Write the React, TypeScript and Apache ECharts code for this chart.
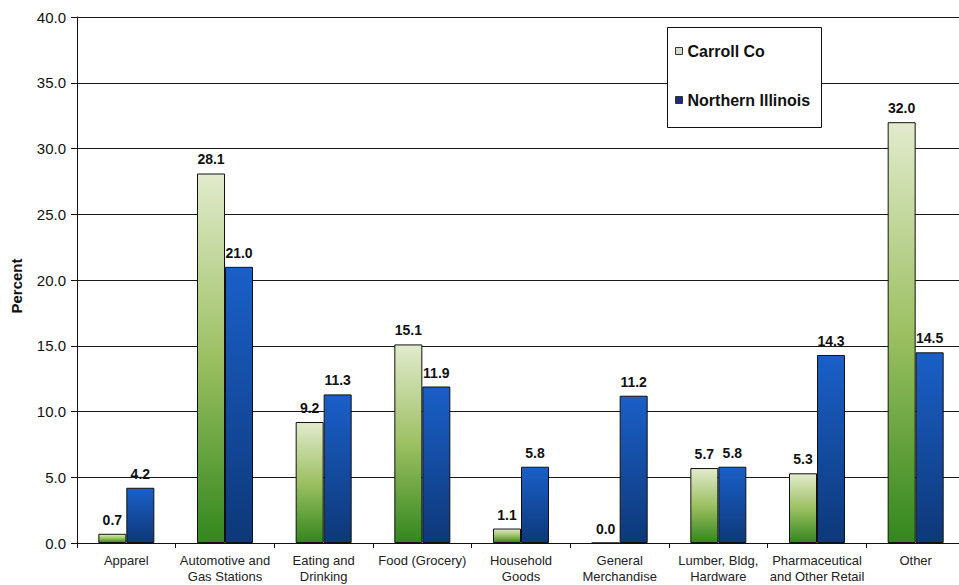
import React, { useEffect, useRef } from "react";
import * as echarts from "echarts";

const categories = [
  "Apparel",
  "Automotive and\nGas Stations",
  "Eating and\nDrinking",
  "Food (Grocery)",
  "Household\nGoods",
  "General\nMerchandise",
  "Lumber, Bldg,\nHardware",
  "Pharmaceutical\nand Other Retail",
  "Other",
];
const carrollCo = [0.7, 28.1, 9.2, 15.1, 1.1, 0.0, 5.7, 5.3, 32.0];
const northernIllinois = [4.2, 21.0, 11.3, 11.9, 5.8, 11.2, 5.8, 14.3, 14.5];
const yTicks = { min: 0, max: 40, interval: 5 };

const FONT = "'Liberation Sans', Arial, sans-serif";

export default function App() {
  const ref = useRef<HTMLDivElement>(null);
  useEffect(() => {
    if (!ref.current) return;
    const chart = echarts.init(ref.current, null, { renderer: "svg" });
    const green = new echarts.graphic.LinearGradient(0, 0, 0, 1, [
      { offset: 0, color: "#e2ebcd" },
      { offset: 0.5, color: "#9cc062" },
      { offset: 1, color: "#33871d" },
    ]);
    const blue = new echarts.graphic.LinearGradient(0, 0, 0, 1, [
      { offset: 0, color: "#1a5fc8" },
      { offset: 1, color: "#0e3878" },
    ]);
    const label = {
      show: true,
      position: "top",
      distance: 7,
      fontFamily: FONT,
      fontWeight: "bold",
      fontSize: 14,
      color: "#111",
      formatter: (p: any) => Number(p.value).toFixed(1),
    };
    chart.setOption({
      animation: false,
      backgroundColor: "#fff",
      textStyle: { fontFamily: FONT },
      grid: {
        left: 77,
        top: 17,
        bottom: 42,
        right: -6,
        containLabel: false,
        outerBoundsMode: "none",
      },
      legend: {
        orient: "vertical",
        left: 670,
        top: 38,
        itemGap: 33,
        itemWidth: 7,
        itemHeight: 7,
        z: 10,
        textStyle: { fontFamily: FONT, fontWeight: "bold", fontSize: 16, color: "#111" },
        data: [
          { name: "Carroll Co", icon: "rect", itemStyle: { color: "#d6dccb", borderColor: "#333", borderWidth: 1 } },
          { name: "Northern Illinois", icon: "rect", itemStyle: { color: "#1c2a78", borderColor: "#333", borderWidth: 1 } },
        ],
      },
      graphic: [
        {
          type: "rect",
          z: 5,
          shape: { x: 667.5, y: 27.5, width: 154, height: 100 },
          style: { fill: "#fff", stroke: "#111", lineWidth: 1 },
        },
        {
          type: "text",
          z: 5,
          x: 16,
          y: 286,
          rotation: Math.PI / 2,
          style: {
            text: "Percent",
            fontFamily: FONT,
            fontWeight: "bold",
            fontSize: 15,
            fill: "#111",
            align: "center",
            verticalAlign: "middle",
          },
        },
      ],
      xAxis: {
        type: "category",
        data: categories,
        axisLine: { lineStyle: { color: "#111" } },
        axisTick: { show: true, length: 5, lineStyle: { color: "#111" } },
        axisLabel: {
          interval: 0,
          margin: 9,
          fontFamily: FONT,
          fontSize: 13,
          lineHeight: 16,
          color: "#222",
        },
      },
      yAxis: {
        type: "value",
        min: yTicks.min,
        max: yTicks.max,
        interval: yTicks.interval,
        axisLine: { show: true, lineStyle: { color: "#111" } },
        axisTick: { show: true, length: 6, lineStyle: { color: "#111" } },
        axisLabel: {
          margin: 11,
          fontFamily: FONT,
          fontSize: 15,
          color: "#111",
          formatter: (v: number) => v.toFixed(1),
        },
        splitLine: { show: true, lineStyle: { color: "#1a1a1a", width: 1 } },
      },
      series: [
        {
          name: "Carroll Co",
          type: "bar",
          data: carrollCo,
          barWidth: 28,
          barGap: "0%",
          itemStyle: { color: green, borderColor: "#111", borderWidth: 1 },
          label,
        },
        {
          name: "Northern Illinois",
          type: "bar",
          data: northernIllinois,
          barWidth: 28,
          itemStyle: { color: blue, borderColor: "#111", borderWidth: 1 },
          label,
        },
      ],
    });
    return () => chart.dispose();
  }, []);
  return (
    <div
      ref={ref}
      style={{ position: "fixed", left: 0, top: 0, width: 959, height: 585 }}
    />
  );
}
